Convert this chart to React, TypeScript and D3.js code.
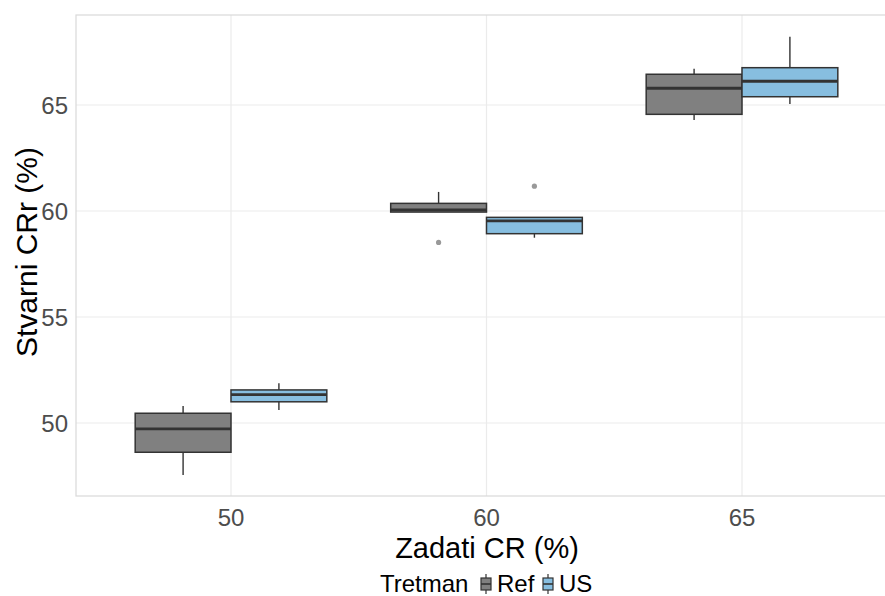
import React from "react";
import * as d3 from "d3";

const categories = ["50", "60", "65"];
const groups = ["Ref", "US"];
const refLow = [47.55, 59.95, 64.29];
const refQ1 = [48.62, 59.95, 64.56];
const refMed = [49.72, 60.05, 65.79];
const refQ3 = [50.46, 60.36, 66.45];
const refHigh = [50.8, 60.9, 66.71];
const usLow = [50.61, 58.74, 65.05];
const usQ1 = [51.0, 58.93, 65.39];
const usMed = [51.34, 59.53, 66.12];
const usQ3 = [51.56, 59.7, 66.76];
const usHigh = [51.87, 59.7, 68.22];
const refOutliers: [string, number][] = [["60", 58.52]];
const usOutliers: [string, number][] = [["60", 61.17]];
const yTicks = [50, 55, 60, 65];

const colors: Record<string, string> = { Ref: "#808080", US: "#87bee0" };

export default function App() {
  const W = 885, H = 596;
  const left = 76, top = 15, bottom = 496;
  const step = 255.5;
  const firstCenter = 231;
  const right = firstCenter + step * 2.6;
  const x = d3
    .scalePoint()
    .domain(categories)
    .range([firstCenter, firstCenter + step * (categories.length - 1)]);
  const xc = (c: string) => x(c) as number;
  const y = d3.scaleLinear().domain([50 - (bottom - 423) / 21.2, 65 + (105 - top) / 21.2]).range([bottom, top]);
  const bw = step * 0.375;
  const xg = d3.scaleBand().domain(groups).range([-bw, bw]);

  const boxes = groups.flatMap((g) =>
    categories.map((c, i) => ({
      g, c,
      lo: g === "Ref" ? refLow[i] : usLow[i],
      q1: g === "Ref" ? refQ1[i] : usQ1[i],
      med: g === "Ref" ? refMed[i] : usMed[i],
      q3: g === "Ref" ? refQ3[i] : usQ3[i],
      hi: g === "Ref" ? refHigh[i] : usHigh[i],
    }))
  );
  const outliers = [
    ...refOutliers.map(([c, v]) => ({ g: "Ref", c, v })),
    ...usOutliers.map(([c, v]) => ({ g: "US", c, v })),
  ];
  const font = "Liberation Sans, Arial, sans-serif";
  const line = "#333333";

  return (
    <svg width={W} height={H} style={{ position: "absolute", left: 0, top: 0, background: "#fff" }} fontFamily={font}>
      <rect x={0} y={0} width={W} height={H} fill="#fff" />
      {yTicks.map((t) => (
        <line key={"gy" + t} x1={left} x2={right} y1={y(t)} y2={y(t)} stroke="#ebebeb" strokeWidth={1.2} />
      ))}
      {categories.map((c) => (
        <line key={"gx" + c} x1={xc(c)} x2={xc(c)} y1={top} y2={bottom} stroke="#ebebeb" strokeWidth={1.2} />
      ))}
      <rect x={left} y={top} width={right - left} height={bottom - top} fill="none" stroke="#d9d9d9" strokeWidth={1.2} />
      {boxes.map((b) => {
        const x0 = xc(b.c) + (xg(b.g) as number);
        const cx = x0 + xg.bandwidth() / 2;
        return (
          <g key={b.g + b.c}>
            <line x1={cx} x2={cx} y1={y(b.hi)} y2={y(b.q3)} stroke={line} strokeWidth={1.4} />
            <line x1={cx} x2={cx} y1={y(b.q1)} y2={y(b.lo)} stroke={line} strokeWidth={1.4} />
            <rect x={x0} y={y(b.q3)} width={xg.bandwidth()} height={y(b.q1) - y(b.q3)} fill={colors[b.g]} stroke={line} strokeWidth={1.5} />
            <line x1={x0} x2={x0 + xg.bandwidth()} y1={y(b.med)} y2={y(b.med)} stroke={line} strokeWidth={2.8} />
          </g>
        );
      })}
      {outliers.map((o, i) => (
        <circle key={"o" + i} cx={xc(o.c) + (xg(o.g) as number) + xg.bandwidth() / 2} cy={y(o.v)} r={2.6} fill="#999999" />
      ))}
      {yTicks.map((t) => (
        <text key={"ty" + t} x={68} y={y(t)} dy="0.36em" textAnchor="end" fontSize={24} fill="#4d4d4d">{t}</text>
      ))}
      {categories.map((c) => (
        <text key={"tx" + c} x={xc(c)} y={526} textAnchor="middle" fontSize={24} fill="#4d4d4d">{c}</text>
      ))}
      <text x={487} y={558} textAnchor="middle" fontSize={29} fill="#000">Zadati CR (%)</text>
      <text transform={`translate(37,252) rotate(-90)`} textAnchor="middle" fontSize={30} fill="#000">Stvarni CRr (%)</text>
      <text x={380} y={592} fontSize={24} fill="#000">Tretman</text>
      {groups.map((g, i) => {
        const kx = 486 + i * 62;
        return (
          <g key={"lg" + g}>
            <line x1={kx} x2={kx} y1={574} y2={594} stroke={line} strokeWidth={1.2} />
            <rect x={kx - 5} y={578} width={10} height={12} fill={colors[g]} stroke={line} strokeWidth={1.2} />
            <line x1={kx - 5} x2={kx + 5} y1={584} y2={584} stroke={line} strokeWidth={1.6} />
            <text x={kx + 11} y={592} fontSize={24} fill="#000">{g}</text>
          </g>
        );
      })}
    </svg>
  );
}
